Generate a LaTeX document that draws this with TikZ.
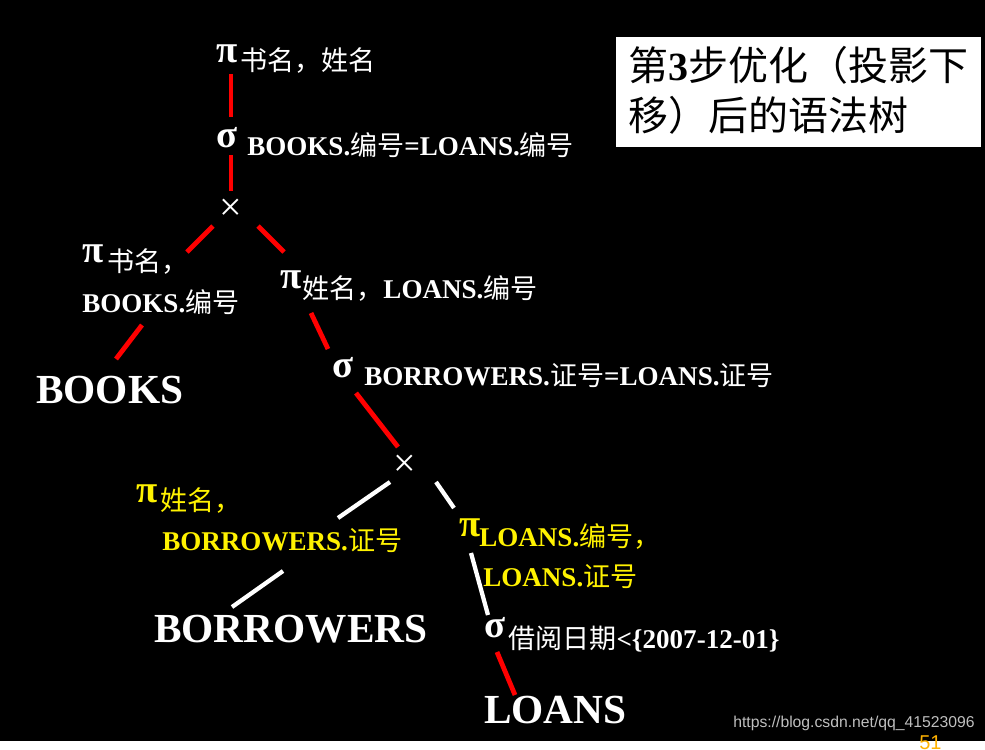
\documentclass[tikz,border=0pt]{standalone}
\usepackage{fontspec}
\setmainfont{Liberation Serif}
\newfontfamily\zhfont{Noto Sans CJK SC}
\newfontfamily\wmfont{Liberation Sans}
\newcommand\zh[1]{{\zhfont\mdseries #1}}
\begin{document}
\begin{tikzpicture}[x=0.75pt,y=-0.75pt,
  lbl/.style={text=white,font=\fontsize{20.3}{24}\selectfont\bfseries,inner sep=0pt,anchor=base west},
  ylbl/.style={lbl,text=yellow},
  big/.style={text=white,font=\fontsize{31}{36}\selectfont\bfseries,inner sep=0pt,anchor=base west},
  greek/.style={text=white,font=\fontsize{29}{30}\selectfont\bfseries,inner sep=0pt,anchor=base west},
  ygreek/.style={greek,text=yellow},
  crossop/.style={text=white,font=\fontsize{30}{30}\selectfont,inner sep=0pt},
  titletxt/.style={text=black,font=\fontsize{30}{36}\selectfont,inner sep=0pt,anchor=base west},
  redline/.style={draw=red,line width=3.6pt},
  whiteline/.style={draw=white,line width=3.2pt}]
\fill[black] (0,0) rectangle (985,741);
% title box
\fill[white] (616,37) rectangle (981,147);
\node[titletxt] (t1) at (628,80) {\zh{第}\textbf{3}\zh{步优化（投影下}};
\node[titletxt] (t2) at (628,130) {\zh{移）后的语法树}};
% top part
\node[greek] (p1) at (216,62) {π};
\node[lbl] (p1t) at (240,70) {\zh{书名，姓名}};
\node[greek] (s1) at (216,147) {σ};
\node[lbl] (s1t) at (247,155) {BOOKS.\zh{编号}=LOANS.\zh{编号}};
\node[crossop] (x1) at (231,210) {×};
\node[greek] (p2) at (82,262) {π};
\node[lbl] (p2t) at (107,271) {\zh{书名，}};
\node[lbl] (p2u) at (82,312) {BOOKS.\zh{编号}};
\node[big] (books) at (36,403) {BOOKS};
\node[greek] (p3) at (280,288) {π};
\node[lbl] (p3t) at (302,298) {\zh{姓名，}LOANS.\zh{编号}};
\node[greek] (s2) at (332,377) {σ};
\node[lbl] (s2t) at (364,385) {BORROWERS.\zh{证号}=LOANS.\zh{证号}};
\node[crossop] (x2) at (405,466) {×};
\node[ygreek] (p4) at (136,502) {π};
\node[ylbl] (p4t) at (160,510) {\zh{姓名，}};
\node[ylbl] (p4u) at (162,550) {BORROWERS.\zh{证号}};
\node[big] (borrowers) at (154,642) {BORROWERS};
\node[ygreek] (p5) at (459,536) {π};
\node[ylbl] (p5t) at (479,546) {LOANS.\zh{编号，}};
\node[ylbl] (p5u) at (483,586) {LOANS.\zh{证号}};
\node[greek] (s3) at (484,637) {σ};
\node[lbl] (s3t) at (508,648) {\zh{借阅日期}<\{2007-12-01\}};
\node[big] (loans) at (484,723) {LOANS};
% watermark
\node[text=white!75!black,font=\wmfont\fontsize{11.8}{14}\selectfont,inner sep=0pt,anchor=base west] (wm) at (733,727) {https://blog.csdn.net/qq\_41523096};
\node[text=orange!60!yellow,font=\wmfont\fontsize{15}{18}\selectfont,inner sep=0pt,anchor=base west] (pg) at (919,749) {51};
% connector ends
\coordinate (a1) at (231,74);  \coordinate (b1) at (231,117);
\coordinate (a2) at (231,155); \coordinate (b2) at (231,191);
\coordinate (a3) at (213,226); \coordinate (b3) at (187,252);
\coordinate (a4) at (258,226); \coordinate (b4) at (284,252);
\coordinate (a5) at (142,325); \coordinate (b5) at (116,359);
\coordinate (a6) at (311,313); \coordinate (b6) at (328,349);
\coordinate (a7) at (356,393); \coordinate (b7) at (398,447);
\coordinate (a8) at (390,482); \coordinate (b8) at (338,518);
\coordinate (a9) at (436,482); \coordinate (b9) at (454,508);
\coordinate (a10) at (283,571); \coordinate (b10) at (232,607);
\coordinate (a11) at (471,553); \coordinate (b11) at (488,615);
\coordinate (a12) at (497,652); \coordinate (b12) at (515,695);
\draw[redline] (a1) -- (b1);
\draw[redline] (a2) -- (b2);
\draw[redline] (a3) -- (b3);
\draw[redline] (a4) -- (b4);
\draw[redline] (a5) -- (b5);
\draw[redline] (a6) -- (b6);
\draw[redline] (a7) -- (b7);
\draw[whiteline] (a8) -- (b8);
\draw[whiteline] (a9) -- (b9);
\draw[whiteline] (a10) -- (b10);
\draw[whiteline] (a11) -- (b11);
\draw[redline] (a12) -- (b12);
\end{tikzpicture}
\end{document}
